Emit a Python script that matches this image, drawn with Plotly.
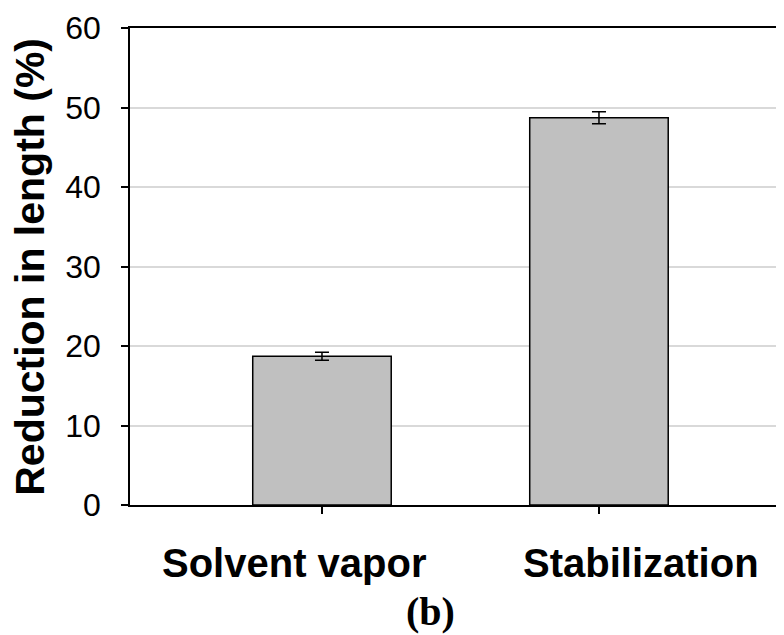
import plotly.graph_objects as go

categories = ["Solvent vapor", "Stabilization"]
values = [18.7, 48.7]
errors = [0.5, 0.75]
y_ticks = [0, 10, 20, 30, 40, 50, 60]
panel_label = "(b)"
y_title = "Reduction in length (%)"

xpos = [1, 2]

fig = go.Figure()
fig.add_trace(go.Bar(
    x=xpos, y=values, width=0.5,
    marker=dict(color="#c0c0c0", line=dict(color="black", width=1.5)),
    error_y=dict(type="data", array=errors, visible=True, color="black",
                 thickness=1.5, width=7),
    showlegend=False,
))

# the page body adds an 8px offset, so the figure is 8px smaller on each axis
fig.update_layout(
    width=776, height=627,
    margin=dict(l=122, r=0, t=20, b=130),
    paper_bgcolor="white", plot_bgcolor="white",
    font=dict(family="Liberation Sans, Arial, sans-serif", color="black"),
    xaxis=dict(range=[0.3069, 2.668], tickvals=xpos, showticklabels=False,
               ticks="outside", ticklen=7, tickcolor="black", tickwidth=1.5,
               showline=True, linecolor="black", linewidth=1.5, mirror=True,
               showgrid=False, zeroline=False, fixedrange=True),
    yaxis=dict(range=[0, 60], tickvals=y_ticks, ticks="outside", ticklen=7,
               tickcolor="black", tickwidth=1.5,
               tickfont=dict(size=32, family="Liberation Sans, Arial, sans-serif"),
               ticklabelstandoff=14,
               showline=True, linecolor="black", linewidth=1.5,
               showgrid=True, gridcolor="#d9d9d9", gridwidth=2,
               zeroline=False),
)

label_x = [0.2508, 0.781]
for cx, txt in zip(label_x, categories):
    fig.add_annotation(x=cx, y=-0.122, xref="paper", yref="paper",
                       text="<b>" + txt + "</b>", showarrow=False,
                       xanchor="center", yanchor="middle",
                       font=dict(size=40, family="Liberation Sans, Arial, sans-serif"))

fig.add_annotation(x=0.459, y=-0.224, xref="paper", yref="paper",
                   text="<b>" + panel_label + "</b>", showarrow=False,
                   xanchor="center", yanchor="middle",
                   font=dict(size=40, family="Liberation Serif, Times New Roman, serif"))

fig.add_annotation(x=-0.154, y=0.5, xref="paper", yref="paper",
                   text="<b>" + y_title + "</b>", showarrow=False, textangle=-90,
                   xanchor="center", yanchor="middle",
                   font=dict(size=41, family="Liberation Sans, Arial, sans-serif"))

fig.write_html("out.html")
